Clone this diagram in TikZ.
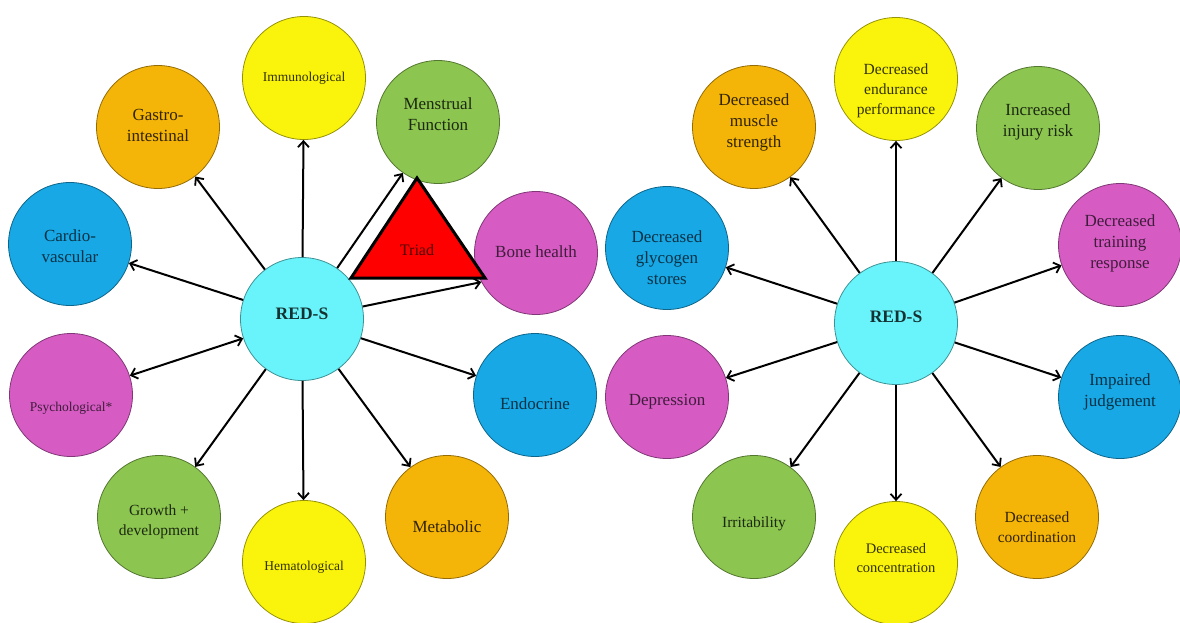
\documentclass[tikz,border=0pt]{standalone}
\usepackage{fontspec}
\setmainfont{Liberation Serif}
\usetikzlibrary{arrows.meta}
\definecolor{redsfill}{RGB}{104,244,250}
\definecolor{yelfill}{RGB}{250,244,12}
\definecolor{orgfill}{RGB}{245,180,8}
\definecolor{grnfill}{RGB}{140,198,80}
\definecolor{blufill}{RGB}{24,168,230}
\definecolor{magfill}{RGB}{214,92,196}
% centred lines, moved up or down inside the bubble
\newcommand{\lbl}[2]{\raisebox{#1}[\height][\depth]{\begin{tabular}{@{}c@{}}#2\end{tabular}}}
\tikzset{
    bub/.style={circle, draw, line width=0.8pt, minimum size=123pt, inner sep=0pt, font=\fontsize{17}{21}\selectfont},
    midtxt/.style={font=\fontsize{15.5}{20}\selectfont},
    smalltxt/.style={font=\fontsize{13.5}{18}\selectfont},
    reds/.style={bub, fill=redsfill, draw=redsfill!60!black, text=redsfill!20!black, font=\fontsize{17.5}{20}\selectfont\bfseries},
    yel/.style={bub, fill=yelfill, draw=yelfill!60!black, text=yelfill!20!black},
    org/.style={bub, fill=orgfill, draw=orgfill!60!black, text=orgfill!20!black},
    grn/.style={bub, fill=grnfill, draw=grnfill!60!black, text=grnfill!20!black},
    blu/.style={bub, fill=blufill, draw=blufill!60!black, text=blufill!30!black},
    mag/.style={bub, fill=magfill, draw=magfill!60!black, text=magfill!30!black},
    arrow/.style={-{Straight Barb[length=6pt, width=11pt, line width=1.8pt]}, line width=2pt, black},
    twoway/.style={{Straight Barb[length=6pt, width=11pt, line width=1.8pt]}-{Straight Barb[length=6pt, width=11pt, line width=1.8pt]}, line width=2pt, black}
}
\begin{document}
\begin{tikzpicture}[x=1pt, y=-1pt]
    \useasboundingbox [fill=white] (0,0) rectangle (1180,622);

    % left wheel
    \node [reds] (redsL) at (302,319) {\lbl{4pt}{RED-S}};
    \node [yel, smalltxt] (immuno) at (304,78) {\lbl{0pt}{Immunological}};
    \node [org] (gastro) at (158,127) {\lbl{0pt}{Gastro-\\intestinal}};
    \node [grn] (menses) at (438,122) {\lbl{6pt}{Menstrual\\Function}};
    \node [blu] (cardio) at (70,244) {\lbl{-4pt}{Cardio-\\vascular}};
    \node [mag] (bone) at (536,253) {\lbl{0pt}{Bone health}};
    \node [mag, smalltxt] (psych) at (71,395) {\lbl{-13pt}{Psychological*}};
    \node [blu] (endo) at (535,395) {\lbl{-10pt}{Endocrine}};
    \node [grn, midtxt] (growth) at (159,517) {\lbl{-4pt}{Growth +\\development}};
    \node [yel, smalltxt] (hemato) at (304,562) {\lbl{-5pt}{Hematological}};
    \node [org] (metab) at (447,517) {\lbl{-11pt}{Metabolic}};

    \draw [arrow] (redsL) -- (immuno);
    \draw [arrow] (redsL) -- (gastro);
    \draw [arrow] (redsL) -- (cardio);
    \draw [twoway] (redsL) -- (psych);
    \draw [arrow] (redsL) -- (growth);
    \draw [arrow] (redsL) -- (hemato);
    \draw [arrow] (redsL) -- (metab);
    \draw [arrow] (redsL) -- (endo);
    \draw [arrow] (redsL) -- (menses);
    \draw [arrow] (redsL) -- (bone.208);

    % the triad sits over the two arrows
    \coordinate (triA) at (351,278);
    \coordinate (triB) at (417,178);
    \coordinate (triC) at (485,278);
    \draw [fill=red, line width=3pt, line join=miter] (triA) -- (triB) -- (triC) -- cycle;
    \node [text=red!30!black, font=\fontsize{16}{18}\selectfont] (triad) at (417,250) {Triad};

    % right wheel
    \node [reds] (redsR) at (896,323) {\lbl{5pt}{RED-S}};
    \node [yel, midtxt] (endur) at (896,79) {\lbl{-11pt}{Decreased\\endurance\\performance}};
    \node [org] (muscle) at (754,127) {\lbl{5pt}{Decreased\\muscle\\strength}};
    \node [grn] (injury) at (1038,128) {\lbl{6pt}{Increased\\injury risk}};
    \node [blu] (glyco) at (667,248) {\lbl{-11pt}{Decreased\\glycogen\\stores}};
    \node [mag] (training) at (1120,245) {\lbl{2pt}{Decreased\\training\\response}};
    \node [mag] (depress) at (667,397) {\lbl{-4pt}{Depression}};
    \node [blu] (judge) at (1120,397) {\lbl{5pt}{Impaired\\judgement}};
    \node [grn, midtxt] (irrit) at (754,517) {\lbl{-6pt}{Irritability}};
    \node [yel, font=\fontsize{14.5}{19}\selectfont] (concen) at (896,563) {\lbl{4pt}{Decreased\\concentration}};
    \node [org, midtxt] (coord) at (1037,517) {\lbl{-11pt}{Decreased\\coordination}};

    \draw [arrow] (redsR) -- (endur);
    \draw [arrow] (redsR) -- (muscle);
    \draw [arrow] (redsR) -- (injury);
    \draw [arrow] (redsR) -- (glyco);
    \draw [arrow] (redsR) -- (training);
    \draw [arrow] (redsR) -- (depress);
    \draw [arrow] (redsR) -- (judge);
    \draw [arrow] (redsR) -- (irrit);
    \draw [arrow] (redsR) -- (concen);
    \draw [arrow] (redsR) -- (coord);
\end{tikzpicture}
\end{document}
